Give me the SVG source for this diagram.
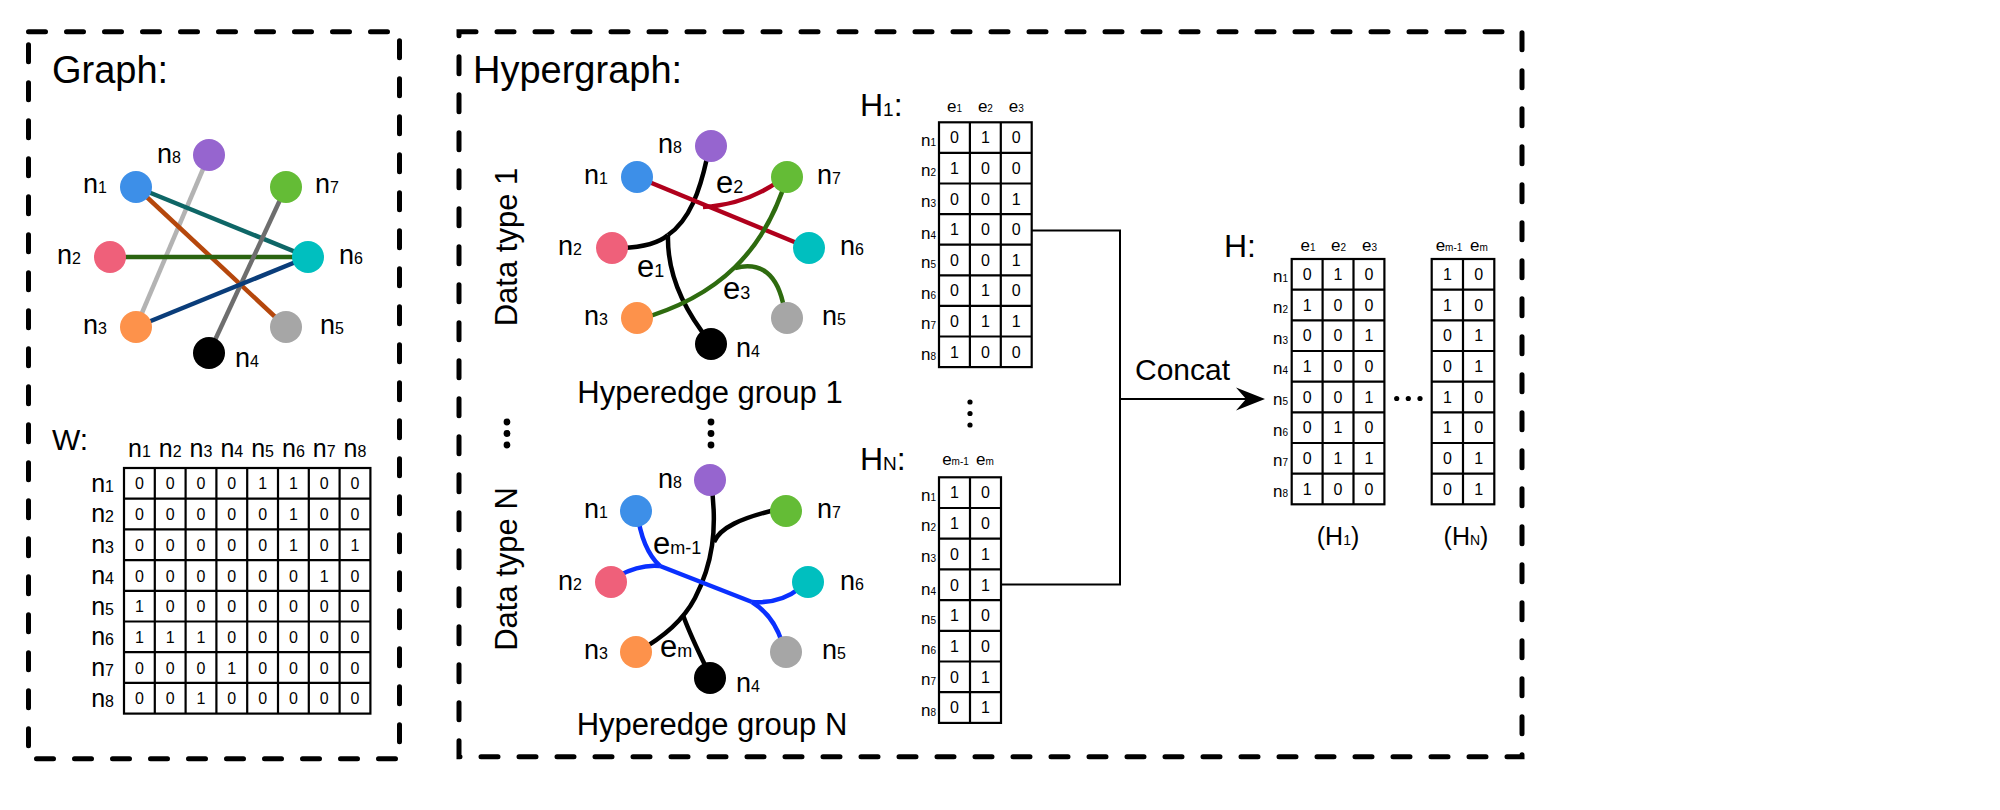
<svg xmlns="http://www.w3.org/2000/svg" width="2000" height="810" viewBox="0 0 2000 810">
  <style>
    text { font-family: "Liberation Sans", Arial, Helvetica, sans-serif; fill: #000; }
    .box { fill: none; stroke: #000; stroke-width: 5; stroke-dasharray: 17 21; stroke-linecap: round; }
    .title { font-size: 38px; }
    .nl { font-size: 27px; }
    .nl .s { font-size: 16px; }
    .el { font-size: 31px; }
    .el .s { font-size: 18px; }
    .grp { font-size: 31px; text-anchor: middle; }
    .grid { fill: none; stroke: #000; stroke-width: 2.2; }
    .cell { font-size: 16px; text-anchor: middle; }
    .wl { font-size: 25px; }
    .wl .s { font-size: 16px; }
    .hl { font-size: 17px; }
    .hl .s { font-size: 10px; }
    .edge { fill: none; stroke-width: 4.5; }
    .link { fill: none; stroke: #000; stroke-width: 2; }
  </style>

  <!-- panel frames -->
  <rect class="box" x="28.5" y="31.7" width="371" height="727"/>
  <rect class="box" x="459" y="31.7" width="1063" height="725"/>

  <text class="title" x="52" y="83">Graph:</text>
  <text class="title" x="473" y="83">Hypergraph:</text>

  <!-- ===== simple graph ===== -->
  <g id="graph-edges" class="edge">
    <line x1="209" y1="155" x2="136" y2="327" stroke="#b3b3b3"/>
    <line x1="136" y1="187" x2="308" y2="257" stroke="#0e6666"/>
    <line x1="136" y1="187" x2="286" y2="327" stroke="#b5470c"/>
    <line x1="110" y1="257" x2="308" y2="257" stroke="#2a6410"/>
    <line x1="286" y1="187" x2="209" y2="353" stroke="#6e6e6e"/>
    <line x1="136" y1="327" x2="308" y2="257" stroke="#0a3d7a"/>
  </g>
  <g id="g-n1"><circle cx="136" cy="187" r="16" fill="#3d8fe8"/><text class="nl" x="83" y="193">n<tspan class="s">1</tspan></text></g>
  <g id="g-n2"><circle cx="110" cy="257" r="16" fill="#ef607a"/><text class="nl" x="57" y="264">n<tspan class="s">2</tspan></text></g>
  <g id="g-n3"><circle cx="136" cy="327" r="16" fill="#fd924b"/><text class="nl" x="83" y="334">n<tspan class="s">3</tspan></text></g>
  <g id="g-n4"><circle cx="209" cy="353" r="16" fill="#000"/><text class="nl" x="235" y="367">n<tspan class="s">4</tspan></text></g>
  <g id="g-n5"><circle cx="286" cy="327" r="16" fill="#a6a6a6"/><text class="nl" x="320" y="334">n<tspan class="s">5</tspan></text></g>
  <g id="g-n6"><circle cx="308" cy="257" r="16" fill="#00bfbf"/><text class="nl" x="339" y="264">n<tspan class="s">6</tspan></text></g>
  <g id="g-n7"><circle cx="286" cy="187" r="16" fill="#64bc36"/><text class="nl" x="315" y="193">n<tspan class="s">7</tspan></text></g>
  <g id="g-n8"><circle cx="209" cy="155" r="16" fill="#9665cf"/><text class="nl" x="157" y="163">n<tspan class="s">8</tspan></text></g>

  <!-- ===== adjacency matrix W ===== -->
  <g id="matrix-W">
    <text x="52" y="450" style="font-size:30px">W:</text>
    <text class="wl" y="457" text-anchor="middle"><tspan x="139.4">n</tspan><tspan class="s">1</tspan><tspan x="170.2">n</tspan><tspan class="s">2</tspan><tspan x="201">n</tspan><tspan class="s">3</tspan><tspan x="231.8">n</tspan><tspan class="s">4</tspan><tspan x="262.6">n</tspan><tspan class="s">5</tspan><tspan x="293.4">n</tspan><tspan class="s">6</tspan><tspan x="324.2">n</tspan><tspan class="s">7</tspan><tspan x="355">n</tspan><tspan class="s">8</tspan></text>
    <text class="wl" text-anchor="end"><tspan x="114" y="491.7">n</tspan><tspan class="s">1</tspan><tspan x="114" y="522.4">n</tspan><tspan class="s">2</tspan><tspan x="114" y="553.1">n</tspan><tspan class="s">3</tspan><tspan x="114" y="583.8">n</tspan><tspan class="s">4</tspan><tspan x="114" y="614.5">n</tspan><tspan class="s">5</tspan><tspan x="114" y="645.2">n</tspan><tspan class="s">6</tspan><tspan x="114" y="675.9">n</tspan><tspan class="s">7</tspan><tspan x="114" y="706.6">n</tspan><tspan class="s">8</tspan></text>
    <rect class="grid" x="124" y="468" width="246.4" height="245.6"/>
    <path class="grid" d="M154.8,468V713.6M185.6,468V713.6M216.4,468V713.6M247.2,468V713.6M278,468V713.6M308.8,468V713.6M339.6,468V713.6M124,498.7H370.4M124,529.4H370.4M124,560.1H370.4M124,590.8H370.4M124,621.5H370.4M124,652.2H370.4M124,682.9H370.4"/>
    <text class="cell" y="489.4"><tspan x="139.4">0</tspan><tspan x="170.2">0</tspan><tspan x="201">0</tspan><tspan x="231.8">0</tspan><tspan x="262.6">1</tspan><tspan x="293.4">1</tspan><tspan x="324.2">0</tspan><tspan x="355">0</tspan></text>
    <text class="cell" y="520.1"><tspan x="139.4">0</tspan><tspan x="170.2">0</tspan><tspan x="201">0</tspan><tspan x="231.8">0</tspan><tspan x="262.6">0</tspan><tspan x="293.4">1</tspan><tspan x="324.2">0</tspan><tspan x="355">0</tspan></text>
    <text class="cell" y="550.8"><tspan x="139.4">0</tspan><tspan x="170.2">0</tspan><tspan x="201">0</tspan><tspan x="231.8">0</tspan><tspan x="262.6">0</tspan><tspan x="293.4">1</tspan><tspan x="324.2">0</tspan><tspan x="355">1</tspan></text>
    <text class="cell" y="581.5"><tspan x="139.4">0</tspan><tspan x="170.2">0</tspan><tspan x="201">0</tspan><tspan x="231.8">0</tspan><tspan x="262.6">0</tspan><tspan x="293.4">0</tspan><tspan x="324.2">1</tspan><tspan x="355">0</tspan></text>
    <text class="cell" y="612.2"><tspan x="139.4">1</tspan><tspan x="170.2">0</tspan><tspan x="201">0</tspan><tspan x="231.8">0</tspan><tspan x="262.6">0</tspan><tspan x="293.4">0</tspan><tspan x="324.2">0</tspan><tspan x="355">0</tspan></text>
    <text class="cell" y="642.9"><tspan x="139.4">1</tspan><tspan x="170.2">1</tspan><tspan x="201">1</tspan><tspan x="231.8">0</tspan><tspan x="262.6">0</tspan><tspan x="293.4">0</tspan><tspan x="324.2">0</tspan><tspan x="355">0</tspan></text>
    <text class="cell" y="673.6"><tspan x="139.4">0</tspan><tspan x="170.2">0</tspan><tspan x="201">0</tspan><tspan x="231.8">1</tspan><tspan x="262.6">0</tspan><tspan x="293.4">0</tspan><tspan x="324.2">0</tspan><tspan x="355">0</tspan></text>
    <text class="cell" y="704.3"><tspan x="139.4">0</tspan><tspan x="170.2">0</tspan><tspan x="201">1</tspan><tspan x="231.8">0</tspan><tspan x="262.6">0</tspan><tspan x="293.4">0</tspan><tspan x="324.2">0</tspan><tspan x="355">0</tspan></text>
  </g>

  <!-- ===== hypergraph, data type 1 ===== -->
  <text transform="translate(517,247) rotate(-90)" text-anchor="middle" style="font-size:31px">Data type 1</text>
  <g id="hg1-edges" class="edge">
    <path stroke="#000" d="M707,158C700,190 690,220 668,235"/>
    <path stroke="#000" d="M668,235C660,242 645,247 622,248"/>
    <path stroke="#000" d="M668,235C667,270 680,305 710,342"/>
    <path stroke="#b0001c" d="M637,177L809,248"/>
    <path stroke="#b0001c" d="M703,207Q745,205 779,181"/>
    <path stroke="#2e6b0f" d="M637,320C720,297 765,250 787,177"/>
    <path stroke="#2e6b0f" d="M735,268Q775,258 784,308"/>
  </g>
  <g id="h1-n1"><circle cx="637" cy="177" r="16" fill="#3d8fe8"/><text class="nl" x="584" y="184">n<tspan class="s">1</tspan></text></g>
  <g id="h1-n2"><circle cx="612" cy="248" r="16" fill="#ef607a"/><text class="nl" x="558" y="255">n<tspan class="s">2</tspan></text></g>
  <g id="h1-n3"><circle cx="637" cy="318" r="16" fill="#fd924b"/><text class="nl" x="584" y="325">n<tspan class="s">3</tspan></text></g>
  <g id="h1-n4"><circle cx="711" cy="344" r="16" fill="#000"/><text class="nl" x="736" y="357">n<tspan class="s">4</tspan></text></g>
  <g id="h1-n5"><circle cx="787" cy="318" r="16" fill="#a6a6a6"/><text class="nl" x="822" y="325">n<tspan class="s">5</tspan></text></g>
  <g id="h1-n6"><circle cx="809" cy="248" r="16" fill="#00bfbf"/><text class="nl" x="840" y="255">n<tspan class="s">6</tspan></text></g>
  <g id="h1-n7"><circle cx="787" cy="177" r="16" fill="#64bc36"/><text class="nl" x="817" y="184">n<tspan class="s">7</tspan></text></g>
  <g id="h1-n8"><circle cx="711" cy="146" r="16" fill="#9665cf"/><text class="nl" x="658" y="153">n<tspan class="s">8</tspan></text></g>
  <text class="el" x="716" y="193">e<tspan class="s">2</tspan></text>
  <text class="el" x="637" y="277">e<tspan class="s">1</tspan></text>
  <text class="el" x="723" y="299">e<tspan class="s">3</tspan></text>
  <text class="grp" x="710" y="403">Hyperedge group 1</text>

  <!-- vertical ellipses -->
  <g fill="#000">
    <circle cx="507" cy="422" r="3.4"/><circle cx="507" cy="433.5" r="3.4"/><circle cx="507" cy="445" r="3.4"/>
    <circle cx="711" cy="422" r="3.4"/><circle cx="711" cy="433.5" r="3.4"/><circle cx="711" cy="445" r="3.4"/>
  </g>

  <!-- ===== hypergraph, data type N ===== -->
  <text transform="translate(517,569) rotate(-90)" text-anchor="middle" style="font-size:31px">Data type N</text>
  <g id="hgN-edges" class="edge">
    <path stroke="#000" d="M711,482C718,530 712,565 695,598C685,617 668,635 637,652"/>
    <path stroke="#000" d="M714,542C720,528 740,518 779,509"/>
    <path stroke="#000" d="M683,615C690,635 698,650 711,678"/>
    <path stroke="#0a30ff" d="M637,511C640,535 648,555 660,566"/>
    <path stroke="#0a30ff" d="M618,576Q640,564 660,566"/>
    <path stroke="#0a30ff" d="M660,566L752,602"/>
    <path stroke="#0a30ff" d="M752,602Q780,604 800,588"/>
    <path stroke="#0a30ff" d="M752,602Q773,615 782,642"/>
  </g>
  <g id="hN-n1"><circle cx="636" cy="511" r="16" fill="#3d8fe8"/><text class="nl" x="584" y="518">n<tspan class="s">1</tspan></text></g>
  <g id="hN-n2"><circle cx="611" cy="582" r="16" fill="#ef607a"/><text class="nl" x="558" y="590">n<tspan class="s">2</tspan></text></g>
  <g id="hN-n3"><circle cx="636" cy="652" r="16" fill="#fd924b"/><text class="nl" x="584" y="659">n<tspan class="s">3</tspan></text></g>
  <g id="hN-n4"><circle cx="710" cy="678" r="16" fill="#000"/><text class="nl" x="736" y="692">n<tspan class="s">4</tspan></text></g>
  <g id="hN-n5"><circle cx="786" cy="652" r="16" fill="#a6a6a6"/><text class="nl" x="822" y="659">n<tspan class="s">5</tspan></text></g>
  <g id="hN-n6"><circle cx="808" cy="582" r="16" fill="#00bfbf"/><text class="nl" x="840" y="590">n<tspan class="s">6</tspan></text></g>
  <g id="hN-n7"><circle cx="786" cy="511" r="16" fill="#64bc36"/><text class="nl" x="817" y="518">n<tspan class="s">7</tspan></text></g>
  <g id="hN-n8"><circle cx="710" cy="480" r="16" fill="#9665cf"/><text class="nl" x="658" y="488">n<tspan class="s">8</tspan></text></g>
  <text class="el" x="653" y="554">e<tspan class="s">m-1</tspan></text>
  <text class="el" x="660" y="657">e<tspan class="s">m</tspan></text>
  <text class="grp" x="712" y="735">Hyperedge group N</text>

  <!-- ===== incidence matrix H1 ===== -->
  <g id="matrix-H1">
    <text x="860" y="116" style="font-size:32px">H<tspan style="font-size:19px">1</tspan>:</text>
    <text class="hl" y="112" text-anchor="middle"><tspan x="954.5">e</tspan><tspan class="s">1</tspan><tspan x="985.4">e</tspan><tspan class="s">2</tspan><tspan x="1016.3">e</tspan><tspan class="s">3</tspan></text>
    <text class="hl" text-anchor="end"><tspan x="936" y="145.6">n</tspan><tspan class="s">1</tspan><tspan x="936" y="176.2">n</tspan><tspan class="s">2</tspan><tspan x="936" y="206.8">n</tspan><tspan class="s">3</tspan><tspan x="936" y="239">n</tspan><tspan class="s">4</tspan><tspan x="936" y="268">n</tspan><tspan class="s">5</tspan><tspan x="936" y="298.6">n</tspan><tspan class="s">6</tspan><tspan x="936" y="329.2">n</tspan><tspan class="s">7</tspan><tspan x="936" y="359.8">n</tspan><tspan class="s">8</tspan></text>
    <rect class="grid" x="939" y="122.3" width="92.7" height="244.8"/>
    <path class="grid" d="M969.9,122.3V367.1M1000.8,122.3V367.1M939,152.9H1031.7M939,183.5H1031.7M939,214.1H1031.7M939,244.7H1031.7M939,275.3H1031.7M939,305.9H1031.7M939,336.5H1031.7"/>
    <text class="cell" y="143.3"><tspan x="954.5">0</tspan><tspan x="985.4">1</tspan><tspan x="1016.3">0</tspan></text>
    <text class="cell" y="173.9"><tspan x="954.5">1</tspan><tspan x="985.4">0</tspan><tspan x="1016.3">0</tspan></text>
    <text class="cell" y="204.5"><tspan x="954.5">0</tspan><tspan x="985.4">0</tspan><tspan x="1016.3">1</tspan></text>
    <text class="cell" y="235.1"><tspan x="954.5">1</tspan><tspan x="985.4">0</tspan><tspan x="1016.3">0</tspan></text>
    <text class="cell" y="265.7"><tspan x="954.5">0</tspan><tspan x="985.4">0</tspan><tspan x="1016.3">1</tspan></text>
    <text class="cell" y="296.3"><tspan x="954.5">0</tspan><tspan x="985.4">1</tspan><tspan x="1016.3">0</tspan></text>
    <text class="cell" y="326.9"><tspan x="954.5">0</tspan><tspan x="985.4">1</tspan><tspan x="1016.3">1</tspan></text>
    <text class="cell" y="357.5"><tspan x="954.5">1</tspan><tspan x="985.4">0</tspan><tspan x="1016.3">0</tspan></text>
  </g>

  <!-- ellipsis between H1 and HN -->
  <g fill="#000">
    <circle cx="970" cy="402" r="2.6"/><circle cx="970" cy="413.5" r="2.6"/><circle cx="970" cy="425" r="2.6"/>
  </g>

  <!-- ===== incidence matrix HN ===== -->
  <g id="matrix-HN">
    <text x="860" y="470" style="font-size:32px">H<tspan style="font-size:19px">N</tspan>:</text>
    <text class="hl" y="465" text-anchor="middle"><tspan x="955.5">e</tspan><tspan class="s">m-1</tspan><tspan x="985">e</tspan><tspan class="s">m</tspan></text>
    <text class="hl" text-anchor="end"><tspan x="936" y="500.7">n</tspan><tspan class="s">1</tspan><tspan x="936" y="531.4">n</tspan><tspan class="s">2</tspan><tspan x="936" y="562.1">n</tspan><tspan class="s">3</tspan><tspan x="936" y="594.5">n</tspan><tspan class="s">4</tspan><tspan x="936" y="623.5">n</tspan><tspan class="s">5</tspan><tspan x="936" y="654.2">n</tspan><tspan class="s">6</tspan><tspan x="936" y="684.9">n</tspan><tspan class="s">7</tspan><tspan x="936" y="715.6">n</tspan><tspan class="s">8</tspan></text>
    <rect class="grid" x="939" y="477.3" width="62" height="245.6"/>
    <path class="grid" d="M970,477.3V722.9M939,508H1001M939,538.7H1001M939,569.4H1001M939,600.1H1001M939,630.8H1001M939,661.5H1001M939,692.2H1001"/>
    <text class="cell" y="498.4"><tspan x="954.5">1</tspan><tspan x="985.5">0</tspan></text>
    <text class="cell" y="529.1"><tspan x="954.5">1</tspan><tspan x="985.5">0</tspan></text>
    <text class="cell" y="559.8"><tspan x="954.5">0</tspan><tspan x="985.5">1</tspan></text>
    <text class="cell" y="590.5"><tspan x="954.5">0</tspan><tspan x="985.5">1</tspan></text>
    <text class="cell" y="621.2"><tspan x="954.5">1</tspan><tspan x="985.5">0</tspan></text>
    <text class="cell" y="651.9"><tspan x="954.5">1</tspan><tspan x="985.5">0</tspan></text>
    <text class="cell" y="682.6"><tspan x="954.5">0</tspan><tspan x="985.5">1</tspan></text>
    <text class="cell" y="713.3"><tspan x="954.5">0</tspan><tspan x="985.5">1</tspan></text>
  </g>

  <!-- ===== concatenation connectors ===== -->
  <g id="concat-links">
    <path class="link" d="M1031.7,230.5H1120V584.5H1001"/>
    <path class="link" d="M1120,399H1250"/>
    <path d="M1265,399L1236,387.5L1246,399L1236,410.5Z" fill="#000"/>
    <text x="1135" y="380" style="font-size:30px">Concat</text>
  </g>

  <!-- ===== concatenated matrix H ===== -->
  <g id="matrix-H">
    <text x="1224" y="257" style="font-size:32px">H:</text>
    <text class="hl" y="251" text-anchor="middle"><tspan x="1308">e</tspan><tspan class="s">1</tspan><tspan x="1338.5">e</tspan><tspan class="s">2</tspan><tspan x="1369.5">e</tspan><tspan class="s">3</tspan><tspan x="1449">e</tspan><tspan class="s">m-1</tspan><tspan x="1479">e</tspan><tspan class="s">m</tspan></text>
    <text class="hl" text-anchor="end"><tspan x="1288" y="282.3">n</tspan><tspan class="s">1</tspan><tspan x="1288" y="313">n</tspan><tspan class="s">2</tspan><tspan x="1288" y="343.7">n</tspan><tspan class="s">3</tspan><tspan x="1288" y="374.3">n</tspan><tspan class="s">4</tspan><tspan x="1288" y="405">n</tspan><tspan class="s">5</tspan><tspan x="1288" y="435.7">n</tspan><tspan class="s">6</tspan><tspan x="1288" y="466.3">n</tspan><tspan class="s">7</tspan><tspan x="1288" y="497">n</tspan><tspan class="s">8</tspan></text>
    <rect class="grid" x="1291.7" y="259" width="92.7" height="245.3"/>
    <path class="grid" d="M1322.6,259V504.3M1353.5,259V504.3M1291.7,289.7H1384.4M1291.7,320.3H1384.4M1291.7,351H1384.4M1291.7,381.7H1384.4M1291.7,412.3H1384.4M1291.7,443H1384.4M1291.7,473.7H1384.4"/>
    <rect class="grid" x="1431.7" y="259" width="62.6" height="245.3"/>
    <path class="grid" d="M1463,259V504.3M1431.7,289.7H1494.3M1431.7,320.3H1494.3M1431.7,351H1494.3M1431.7,381.7H1494.3M1431.7,412.3H1494.3M1431.7,443H1494.3M1431.7,473.7H1494.3"/>
    <text class="cell" y="280"><tspan x="1307.2">0</tspan><tspan x="1338">1</tspan><tspan x="1369">0</tspan><tspan x="1447.4">1</tspan><tspan x="1478.7">0</tspan></text>
    <text class="cell" y="310.7"><tspan x="1307.2">1</tspan><tspan x="1338">0</tspan><tspan x="1369">0</tspan><tspan x="1447.4">1</tspan><tspan x="1478.7">0</tspan></text>
    <text class="cell" y="341.4"><tspan x="1307.2">0</tspan><tspan x="1338">0</tspan><tspan x="1369">1</tspan><tspan x="1447.4">0</tspan><tspan x="1478.7">1</tspan></text>
    <text class="cell" y="372"><tspan x="1307.2">1</tspan><tspan x="1338">0</tspan><tspan x="1369">0</tspan><tspan x="1447.4">0</tspan><tspan x="1478.7">1</tspan></text>
    <text class="cell" y="402.7"><tspan x="1307.2">0</tspan><tspan x="1338">0</tspan><tspan x="1369">1</tspan><tspan x="1447.4">1</tspan><tspan x="1478.7">0</tspan></text>
    <text class="cell" y="433.4"><tspan x="1307.2">0</tspan><tspan x="1338">1</tspan><tspan x="1369">0</tspan><tspan x="1447.4">1</tspan><tspan x="1478.7">0</tspan></text>
    <text class="cell" y="464"><tspan x="1307.2">0</tspan><tspan x="1338">1</tspan><tspan x="1369">1</tspan><tspan x="1447.4">0</tspan><tspan x="1478.7">1</tspan></text>
    <text class="cell" y="494.7"><tspan x="1307.2">1</tspan><tspan x="1338">0</tspan><tspan x="1369">0</tspan><tspan x="1447.4">0</tspan><tspan x="1478.7">1</tspan></text>
    <g fill="#000"><circle cx="1396.7" cy="398.5" r="2.6"/><circle cx="1408.3" cy="398.5" r="2.6"/><circle cx="1420" cy="398.5" r="2.6"/></g>
    <text x="1338" y="545" text-anchor="middle" style="font-size:25px">(H<tspan style="font-size:14px">1</tspan>)</text>
    <text x="1466" y="545" text-anchor="middle" style="font-size:25px">(H<tspan style="font-size:14px">N</tspan>)</text>
  </g>
</svg>
